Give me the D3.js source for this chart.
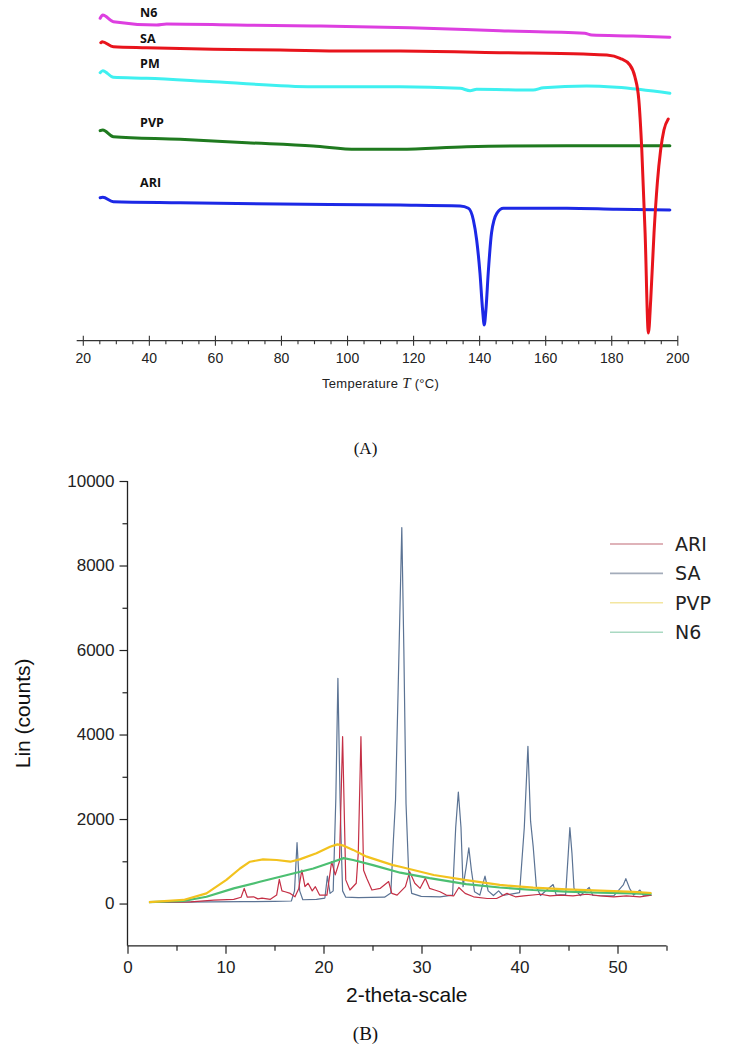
<!DOCTYPE html>
<html><head><meta charset="utf-8">
<script src="https://cdn.jsdelivr.net/npm/d3@7"></script>
<style>body{margin:0;background:#fff}svg{display:block}</style>
</head><body>
<svg id="c" width="731" height="1050"></svg>
<script>
// ---------- (A) DSC data: temperature (°C) and heat flow (a.u., exo up) ----------
const dscN6T  = [25.1,25.9,29.1,42.2,45.2,66.4,89.6,118.9,146.1,171.8,173.9,186.5,197.6];
const dscN6H  = [-1.83,-1.50,-2.17,-2.50,-2.40,-2.50,-2.60,-2.77,-3.07,-3.33,-3.50,-3.60,-3.73];
const dscSAT  = [25.3,25.7,29.1,39.2,59.4,79.6,99.7,115.9,146.1,171.4,178.5,182.5,185.5,187.0,188.2,189.1,190.1,191.1,191.8,192.8,193.8,194.8,195.8,197.1];
const dscSAH  = [-4.27,-4.17,-4.67,-4.77,-4.93,-5.00,-5.10,-5.10,-5.27,-5.40,-5.50,-5.83,-6.50,-7.67,-10.0,-15.0,-23.3,-33.3,-30.0,-23.3,-18.3,-15.0,-13.0,-11.9];
const dscPMT  = [25.1,25.9,29.1,39.2,59.4,89.6,115.9,134.1,137.1,139.1,156.2,159.3,172.4,181.5,197.6];
const dscPMH  = [-7.27,-7.07,-7.73,-7.83,-8.17,-8.67,-8.67,-8.83,-9.07,-8.93,-9.00,-8.77,-8.60,-8.73,-9.33];
const dscPVPT = [25.1,25.9,29.1,49.3,69.5,89.6,102.8,115.9,136.1,166.4,197.6];
const dscPVPH = [-13.07,-13.00,-13.67,-13.93,-14.27,-14.60,-14.93,-14.93,-14.67,-14.57,-14.57];
const dscARIT = [25.1,25.9,29.1,49.3,79.6,115.9,134.1,136.6,138.1,139.1,140.1,140.9,141.4,141.9,142.6,143.6,145.2,147.2,166.4,181.5,197.6];
const dscARIH = [-19.77,-19.73,-20.17,-20.27,-20.40,-20.50,-20.60,-20.83,-22.0,-24.0,-27.3,-31.0,-32.5,-31.0,-27.3,-23.3,-21.33,-20.83,-20.83,-20.93,-21.0];
const dscNames  = ["N6","SA","PM","PVP","ARI"];
const dscColors = ["#dd3fe0","#e8141c","#3ff0f0","#1f7a1f","#1c28e6"];
const tempTicks = [20,40,60,80,100,120,140,160,180,200];

// ---------- (B) XRD data: 2-theta (as read on the plotted axis) and counts ----------
const xrdSA = [[2.19,30],[5.39,35],[8.6,40],[11.8,45],[15.01,50],[16.72,60],[17.04,300],[17.3,1440],[17.57,300],[17.89,90],[19.28,100],[20.14,130],[20.4,650],[20.67,240],[20.99,300],[21.26,2500],[21.47,5330],[21.69,2500],[21.82,1300],[21.95,300],[22.27,150],[23.55,140],[26.23,150],[26.87,250],[27.13,1500],[27.35,2450],[27.61,5000],[27.99,8900],[28.2,6000],[28.42,2370],[28.68,790],[29.0,240],[29.97,170],[31.89,160],[33.17,200],[33.49,1800],[33.76,2640],[34.03,1800],[34.24,400],[34.56,870],[34.83,1320],[35.09,790],[35.41,280],[35.95,200],[36.48,650],[36.8,300],[37.34,190],[37.87,300],[38.3,190],[40.01,260],[40.49,1800],[40.86,3720],[41.13,1950],[41.4,1340],[41.72,400],[42.14,190],[43.43,450],[43.75,200],[44.71,210],[44.98,1200],[45.14,1800],[45.35,1200],[45.56,360],[46.21,190],[47.11,380],[47.49,190],[49.62,180],[50.59,440],[50.85,590],[51.23,360],[51.65,200],[52.29,320],[52.62,200],[53.47,190]];
const xrdARI = [[2.19,30],[6.46,40],[8.81,80],[10.84,100],[11.59,150],[11.91,360],[12.23,150],[12.87,160],[13.3,110],[13.73,130],[14.58,100],[15.22,200],[15.49,570],[15.76,300],[16.08,280],[16.61,240],[17.09,160],[17.47,350],[17.79,790],[18.11,400],[18.43,480],[18.85,300],[19.17,400],[19.6,200],[20.35,200],[20.83,990],[21.2,680],[21.63,1000],[21.95,3950],[22.27,560],[22.7,320],[23.34,480],[23.55,1200],[23.82,3950],[24.09,790],[24.41,600],[24.94,320],[25.8,360],[26.65,520],[26.97,240],[27.51,200],[28.36,400],[28.79,750],[29.32,480],[29.86,360],[30.39,600],[30.82,360],[31.35,320],[31.89,280],[32.53,200],[33.28,180],[33.81,380],[34.45,240],[35.31,160],[36.7,120],[37.66,120],[38.73,240],[39.58,160],[40.44,180],[42.14,220],[43.11,180],[44.18,200],[45.46,180],[46.85,220],[48.23,180],[49.62,160],[50.91,180],[52.29,160],[53.47,200]];
const xrdPVP = [[2.19,35],[5.71,85],[8.06,240],[10.09,560],[11.48,830],[12.5,990],[13.83,1045],[15.22,1030],[16.61,990],[17.57,1045],[19.28,1190],[20.67,1345],[21.42,1400],[22.06,1370],[23.02,1270],[24.41,1110],[27.08,910],[27.83,870],[31.25,675],[34.56,556],[37.98,440],[41.4,375],[44.82,335],[48.23,305],[51.65,275],[53.47,250]];
const xrdN6 = [[2.19,35],[5.71,60],[8.06,160],[10.84,360],[13.51,515],[16.29,675],[18.96,830],[20.99,990],[22.06,1075],[23.02,1030],[25.05,910],[27.83,730],[30.82,600],[34.56,460],[37.98,380],[41.4,320],[44.82,280],[48.23,255],[51.65,240],[53.47,225]];
const xrdNames  = ["ARI","SA","PVP","N6"];
const xrdColors = ["#c42f45","#5b7394","#f2c21e","#4cbf72"];
const legendColors = ["#d49aa2","#a3acba","#f3e6a0","#a9d9c2"];
const yTicksB = [0,2000,4000,6000,8000,10000];
const xTicksB = [0,10,20,30,40,50];

const svg = d3.select("#c");
svg.append("rect").attr("width",731).attr("height",1050).attr("fill","#fff");

// ================= (A) =================
const xT = d3.scaleLinear().domain([20,200]).range([83.3,677.8]);
const yT = d3.scaleLinear().domain([0,-34]).range([0,340]);
const gA = svg.append("g");
const dscT = [dscN6T,dscSAT,dscPMT,dscPVPT,dscARIT];
const dscH = [dscN6H,dscSAH,dscPMH,dscPVPH,dscARIH];
const lineA = d3.line().x(d=>xT(d[0])).y(d=>yT(d[1])).curve(d3.curveMonotoneX);
[4,3,2,0,1].forEach(i=>{
  const pts = dscT[i].map((t,k)=>[t,dscH[i][k]]);
  gA.append("path").attr("d",lineA(pts)).attr("fill","none")
    .attr("stroke",dscColors[i]).attr("stroke-width",3).attr("stroke-linejoin","round").attr("stroke-linecap","round");
});
const labelY = [-1.73,-4.27,-6.83,-12.67,-18.73];
dscNames.forEach((n,i)=>{
  gA.append("text").attr("x",xT(37.2)).attr("y",yT(labelY[i]))
    .attr("font-family","'Open Sans','DejaVu Sans',sans-serif").attr("font-weight","bold")
    .attr("font-size",12.5).attr("fill","#111").text(n);
});
const axY = 340.7;
gA.append("line").attr("x1",xT(18)).attr("x2",xT(200)).attr("y1",axY).attr("y2",axY)
  .attr("stroke","#333").attr("stroke-width",1.2);
d3.range(20,201,5).forEach(t=>{
  const major = t%20===0;
  gA.append("line").attr("x1",xT(t)).attr("x2",xT(t))
    .attr("y1",major?axY-5:axY).attr("y2",major?axY+5:axY+3.5)
    .attr("stroke","#333").attr("stroke-width",1.1);
});
tempTicks.forEach(t=>{
  gA.append("text").attr("x",xT(t)).attr("y",axY+22).attr("text-anchor","middle")
    .attr("font-family","'Liberation Sans',Arial,sans-serif").attr("font-size",14).attr("fill","#222").text(t);
});
const tt = gA.append("text").attr("x",xT(110)).attr("y",axY+47).attr("text-anchor","middle")
  .attr("font-family","'Liberation Sans',Arial,sans-serif").attr("font-size",13).attr("letter-spacing",0.3).attr("fill","#222");
tt.append("tspan").text("Temperature ");
tt.append("tspan").attr("font-family","'Liberation Serif','Times New Roman',serif").attr("font-style","italic").attr("font-size",15).text("T");
tt.append("tspan").text(" (°C)");
svg.append("text").attr("x",365.5).attr("y",454).attr("text-anchor","middle")
  .attr("font-family","'Liberation Serif','Times New Roman',serif").attr("font-size",17).attr("fill","#111").text("(A)");

// ================= (B) =================
const xB = d3.scaleLinear().domain([0,55]).range([127.5,666.5]);
const yB = d3.scaleLinear().domain([-1000,10000]).range([945.8,481]);
const gB = svg.append("g");
const lineB = d3.line().x(d=>xB(d[0])).y(d=>yB(d[1])).curve(d3.curveLinear);
const xrdData = [xrdARI,xrdSA,xrdPVP,xrdN6];
[1,0,3,2].forEach(i=>{
  gB.append("path").attr("d",lineB(xrdData[i])).attr("fill","none")
    .attr("stroke",xrdColors[i]).attr("stroke-width",(i>=2)?2.2:1.2).attr("stroke-linejoin","round");
});
const yAxis = d3.axisLeft(yB).tickValues(d3.range(0,10001,1000)).tickSize(0).tickFormat(d=>yTicksB.includes(d)?d:"");
const ga = gB.append("g").attr("transform","translate(127.5,0)").call(yAxis);
ga.select(".domain").remove();
gB.append("line").attr("x1",127.5).attr("x2",127.5).attr("y1",yB(10000)).attr("y2",yB(-1000)).attr("stroke","#222").attr("stroke-width",1.3);
ga.selectAll(".tick line").remove();
ga.selectAll(".tick").append("line").attr("x1",d=>d%2000===0?-8:-5).attr("x2",0).attr("stroke","#222").attr("stroke-width",1.2);
ga.selectAll(".tick text").attr("x",-13).attr("font-family","'Liberation Sans',Arial,sans-serif").attr("font-size",17).attr("fill","#222");
const xAxis = d3.axisBottom(xB).tickValues(d3.range(0,56,5)).tickSize(0).tickFormat(d=>xTicksB.includes(d)?d:"");
const gx = gB.append("g").attr("transform",`translate(0,${yB(-1000)})`).call(xAxis);
gx.select(".domain").remove();
gB.append("line").attr("x1",127.5).attr("x2",xB(55)).attr("y1",yB(-1000)).attr("y2",yB(-1000)).attr("stroke","#222").attr("stroke-width",1.3);
gx.selectAll(".tick line").remove();
gx.selectAll(".tick").append("line").attr("y1",0).attr("y2",d=>d%10===0?8:5).attr("stroke","#222").attr("stroke-width",1.2);
gx.selectAll(".tick text").attr("y",15).attr("dy","0.71em").attr("font-family","'Liberation Sans',Arial,sans-serif").attr("font-size",17).attr("fill","#222");
gB.append("text").attr("transform",`translate(30,${(yB(10000)+yB(-1000))/2}) rotate(-90)`).attr("text-anchor","middle")
  .attr("font-family","'Liberation Sans',Arial,sans-serif").attr("font-size",21).attr("fill","#111").text("Lin (counts)");
gB.append("text").attr("x",xB(28.5)).attr("y",1002).attr("text-anchor","middle")
  .attr("font-family","'Liberation Sans',Arial,sans-serif").attr("font-size",21).attr("fill","#111").text("2-theta-scale");
svg.append("text").attr("x",365.5).attr("y",1040).attr("text-anchor","middle")
  .attr("font-family","'Liberation Serif','Times New Roman',serif").attr("font-size",19).attr("fill","#111").text("(B)");
xrdNames.forEach((n,i)=>{
  const y = 544 + i*29.4;
  gB.append("line").attr("x1",610).attr("x2",663).attr("y1",y).attr("y2",y).attr("stroke",legendColors[i]).attr("stroke-width",1.6);
  gB.append("text").attr("x",675).attr("y",y).attr("dy","0.36em")
    .attr("font-family","'DejaVu Sans',Verdana,sans-serif").attr("font-size",19).attr("fill","#222").text(n);
});
</script>
</body></html>
